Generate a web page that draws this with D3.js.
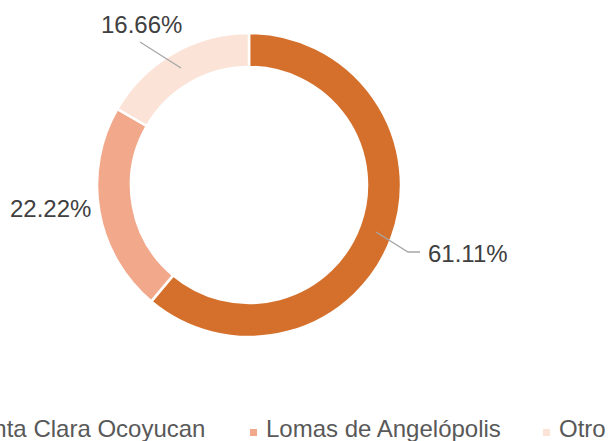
<!DOCTYPE html>
<html><head><meta charset="utf-8">
<script src="https://cdn.jsdelivr.net/npm/d3@7"></script>
<style>body{margin:0;background:#fff}svg{display:block}text{font-family:"Liberation Sans",Arial,sans-serif}</style>
</head><body>
<svg id="c" width="608" height="441"></svg>
<script>
const categories = ["Santa Clara Ocoyucan", "Lomas de Angelópolis", "Otro"];
const values = [61.11, 22.22, 16.66];
const labels = ["61.11%", "22.22%", "16.66%"];
const colors = ["#D4702B", "#F2A98B", "#FBE4D7"];

const svg = d3.select("#c");
const cx = 249, cy = 185, rOut = 152, rIn = 118;
const g = svg.append("g").attr("transform", `translate(${cx},${cy})`);
const pie = d3.pie().sort(null).value(d => d)(values);
const arc = d3.arc().innerRadius(rIn).outerRadius(rOut);
g.selectAll("path").data(pie).join("path")
  .attr("d", arc).attr("fill", (d, i) => colors[i])
  .attr("stroke", "#fff").attr("stroke-width", 2.5);

// labels (positions relative to centre)
const labelPos = [
  {x: 179, y: 77, line: [[127, 47], [159, 67], [171, 67]]},
  {x: -239, y: 32, line: null},
  {x: -148, y: -152, line: [[-68, -117], [-109, -143]]}
];
pie.forEach((d, i) => {
  const p = labelPos[i];
  if (p.line) g.append("path").attr("d", d3.line()(p.line))
    .attr("fill", "none").attr("stroke", "#A6A6A6").attr("stroke-width", 1.3);
  g.append("text").attr("x", p.x).attr("y", p.y)
    .attr("font-size", 24).attr("fill", "#404040").text(labels[i]);
});

// legend
const legendX = [-36, 266, 559];
const lg = svg.append("g");
categories.forEach((c, i) => {
  lg.append("rect").attr("x", legendX[i] - 16).attr("y", 429).attr("width", 7).attr("height", 7)
    .attr("fill", colors[i]);
  lg.append("text").attr("x", legendX[i]).attr("y", 437).attr("font-size", 24)
    .attr("fill", "#595959").text(c);
});
</script>
</body></html>
